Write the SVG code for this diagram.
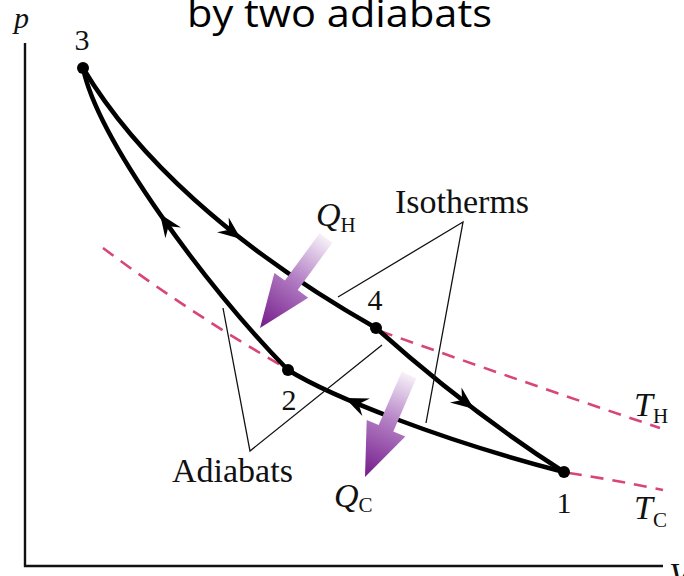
<svg xmlns="http://www.w3.org/2000/svg" xmlns:xlink="http://www.w3.org/1999/xlink" width="684" height="576" viewBox="0 0 684 576">
<style>
.title{font-family:"Open Sans","Noto Sans",sans-serif;font-size:38px;fill:#000}
.lbl{font-family:"Liberation Serif","Times New Roman",serif;font-size:34px;fill:#111}
.num{font-family:"Liberation Serif","Times New Roman",serif;font-size:30px;fill:#111;text-anchor:middle}
.it{font-style:italic}
.sub{font-size:21px;font-style:normal}
.curve{fill:none;stroke:#000;stroke-width:4.5;stroke-linecap:round}
.dash{fill:none;stroke:#d8457a;stroke-width:2.6;stroke-dasharray:13 9}
.leader{fill:none;stroke:#111;stroke-width:1.3}
.axis{fill:none;stroke:#111;stroke-width:2.4}
.dot{fill:#000}
</style>
<defs>
<path id="ah" d="M0,0 L-23,-9.5 L-15,0 L-23,9.5 Z" fill="#000"/>
<linearGradient id="gH" gradientUnits="userSpaceOnUse" x1="326" y1="238" x2="260" y2="328">
<stop offset="0" stop-color="#f6f0f8"/>
<stop offset="0.45" stop-color="#b37fc4"/>
<stop offset="1" stop-color="#741a8a"/>
</linearGradient>
<linearGradient id="gC" gradientUnits="userSpaceOnUse" x1="409" y1="375" x2="365" y2="477">
<stop offset="0" stop-color="#f6f0f8"/>
<stop offset="0.45" stop-color="#b37fc4"/>
<stop offset="1" stop-color="#741a8a"/>
</linearGradient>
</defs>
<rect width="684" height="576" fill="#fff"/>
<text class="title" x="187" y="27" textLength="305" lengthAdjust="spacingAndGlyphs">by two adiabats</text>
<g id="axes">
<line class="axis" x1="25" y1="43" x2="25" y2="567"/>
<line class="axis" x1="24" y1="566" x2="663" y2="566"/>
<text class="lbl it" x="14" y="28" style="font-size:30px">p</text>
<text class="lbl it" x="669" y="586">V</text>
</g>
<g id="isotherm-lines">
<path class="dash" d="M103,248 Q190,313 284,367"/>
<path class="dash" d="M380,331 Q520,381 660,428"/>
<path class="dash" d="M569,473 Q615,480 663,490"/>
</g>
<g id="connectors">
<path class="curve" d="M83,68 C135,155 230,245 376,328"/>
<path class="curve" d="M83,68 C98,140 205,285 288,370"/>
<path class="curve" d="M376,328 Q470,412 564,472"/>
<path class="curve" d="M288,370 C330,396 440,440 564,472"/>
<use xlink:href="#ah" href="#ah" transform="translate(241,239) rotate(37.9)"/>
<use xlink:href="#ah" href="#ah" transform="translate(160,214) rotate(-124.9)"/>
<use xlink:href="#ah" href="#ah" transform="translate(474,409) rotate(37.3)"/>
<use xlink:href="#ah" href="#ah" transform="translate(345,398) rotate(-156.5)"/>
</g>
<g id="leaders">
<polyline class="leader" points="338,297 463,222 426,423"/>
<polyline class="leader" points="223,308 250,451 382,345"/>
</g>
<g id="heat-arrows">
<polygon fill="url(#gH)" points="319.6,233.3 332.4,242.7 297.7,290.0 308.2,297.7 260,328 274.4,272.9 284.9,280.6"/>
<polygon fill="url(#gC)" points="401.7,371.8 416.3,378.2 393.3,431.5 405.3,436.6 365,477 366.7,420 378.7,425.1"/>
</g>
<g id="node-3"><circle class="dot" cx="83" cy="68" r="6"/><text class="num" x="82" y="50">3</text></g>
<g id="node-4"><circle class="dot" cx="376" cy="328" r="6"/><text class="num" x="375" y="310">4</text></g>
<g id="node-2"><circle class="dot" cx="288" cy="370" r="6"/><text class="num" x="289" y="410">2</text></g>
<g id="node-1"><circle class="dot" cx="564" cy="472" r="6"/><text class="num" x="564" y="513">1</text></g>
<g id="labels">
<text class="lbl" x="395" y="213">Isotherms</text>
<text class="lbl" x="172" y="482">Adiabats</text>
<text class="lbl it" x="316" y="226">Q<tspan class="sub" dy="6">H</tspan></text>
<text class="lbl it" x="334" y="507">Q<tspan class="sub" dy="5">C</tspan></text>
<text class="lbl it" x="634" y="416">T<tspan class="sub" dy="7">H</tspan></text>
<text class="lbl it" x="634" y="519">T<tspan class="sub" dy="8">C</tspan></text>
</g>
</svg>
